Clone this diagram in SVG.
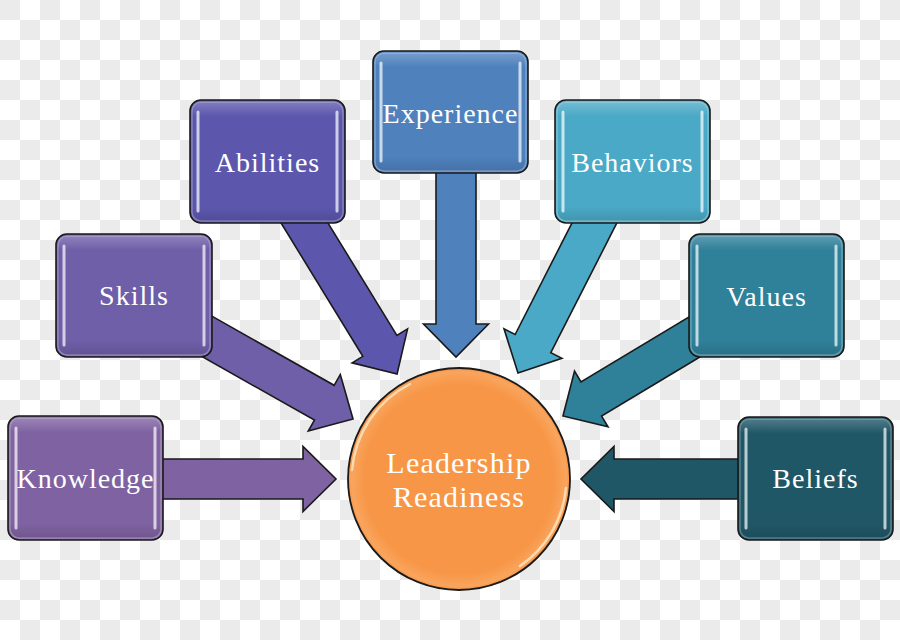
<svg xmlns="http://www.w3.org/2000/svg" width="900" height="640" viewBox="0 0 900 640">
<defs>
<pattern id="chk" width="40" height="40" patternUnits="userSpaceOnUse">
<rect width="40" height="40" fill="#ffffff"/>
<rect width="20" height="20" fill="#ebebeb"/>
<rect x="20" y="20" width="20" height="20" fill="#ebebeb"/>
</pattern>
<linearGradient id="gloss" x1="0" y1="0" x2="0" y2="1">
<stop offset="0" stop-color="#ffffff" stop-opacity="0.22"/>
<stop offset="0.12" stop-color="#ffffff" stop-opacity="0"/>
<stop offset="0.88" stop-color="#000000" stop-opacity="0"/>
<stop offset="1" stop-color="#000000" stop-opacity="0.12"/>
</linearGradient>
<radialGradient id="cglow" cx="0.5" cy="0.5" r="0.5">
<stop offset="0.85" stop-color="#f79646"/>
<stop offset="0.97" stop-color="#f9a55e"/>
<stop offset="1" stop-color="#f58f3e"/>
</radialGradient>
</defs>
<style>
.box{stroke:#1a1a1a;stroke-width:1.6}
.gl{fill:url(#gloss);stroke:#ffffff;stroke-opacity:0.25;stroke-width:1.5}
.hl{stroke:#ffffff;stroke-opacity:0.7;stroke-width:3;stroke-linecap:round;fill:none}
.arr{stroke:#1a1a1a;stroke-width:1.6;stroke-linejoin:miter}
.lbl{font-family:"Liberation Serif","Times New Roman",serif;font-size:28px;fill:#ffffff;text-anchor:middle;letter-spacing:1px}
.clbl{font-family:"Liberation Serif","Times New Roman",serif;font-size:30px;fill:#ffffff;text-anchor:middle;letter-spacing:1.2px}
</style>
<rect width="900" height="640" fill="url(#chk)"/>
<g id="connectors">
<path class="arr" fill="#7f62a1" transform="translate(150,479)" d="M0,-20 H153 V-32.5 L186,0 L153,32.5 V20 H0 Z"/>
<path class="arr" fill="#6f5ea8" transform="translate(200.7,332.8) rotate(29.5)" d="M0,-20 H142 V-32.5 L175,0 L142,32.5 V20 H0 Z"/>
<path class="arr" fill="#5c57ad" transform="translate(297.8,212) rotate(58.5)" d="M0,-20 H157 V-32.5 L190,0 L157,32.5 V20 H0 Z"/>
<path class="arr" fill="#4f81bd" transform="translate(456,162) rotate(90)" d="M0,-20 H162 V-32.5 L195,0 L162,32.5 V20 H0 Z"/>
<path class="arr" fill="#4aa9c6" transform="translate(599.7,212.6) rotate(117)" d="M0,-20 H147 V-32.5 L180,0 L147,32.5 V20 H0 Z"/>
<path class="arr" fill="#2f8099" transform="translate(708.7,328.4) rotate(149)" d="M0,-20 H137 V-32.5 L170,0 L137,32.5 V20 H0 Z"/>
<path class="arr" fill="#205767" transform="translate(751,479) rotate(180)" d="M0,-20 H137 V-32.5 L170,0 L137,32.5 V20 H0 Z"/>
</g>
<g id="knowledge">
<rect class="box" x="8" y="416" width="155" height="124" rx="11" fill="#7f62a1"/>
<rect class="gl" x="10" y="418" width="151" height="120" rx="9"/>
<path class="hl" d="M16,428 V528 M155,428 V528"/>
<text class="lbl" x="85.5" y="488">Knowledge</text>
</g>
<g id="skills">
<rect class="box" x="56" y="234" width="156" height="123" rx="11" fill="#6f5ea8"/>
<rect class="gl" x="58" y="236" width="152" height="119" rx="9"/>
<path class="hl" d="M64,246 V345 M204,246 V345"/>
<text class="lbl" x="134" y="305">Skills</text>
</g>
<g id="abilities">
<rect class="box" x="190" y="100" width="155" height="123" rx="11" fill="#5c57ad"/>
<rect class="gl" x="192" y="102" width="151" height="119" rx="9"/>
<path class="hl" d="M198,112 V211 M337,112 V211"/>
<text class="lbl" x="267.5" y="172">Abilities</text>
</g>
<g id="experience">
<rect class="box" x="373" y="51" width="155" height="122" rx="11" fill="#4f81bd"/>
<rect class="gl" x="375" y="53" width="151" height="118" rx="9"/>
<path class="hl" d="M381,63 V161 M520,63 V161"/>
<text class="lbl" x="450.5" y="123">Experience</text>
</g>
<g id="behaviors">
<rect class="box" x="555" y="100" width="155" height="123" rx="11" fill="#4aa9c6"/>
<rect class="gl" x="557" y="102" width="151" height="119" rx="9"/>
<path class="hl" d="M563,112 V211 M702,112 V211"/>
<text class="lbl" x="632.5" y="172">Behaviors</text>
</g>
<g id="values">
<rect class="box" x="689" y="234" width="155" height="123" rx="11" fill="#2f8099"/>
<rect class="gl" x="691" y="236" width="151" height="119" rx="9"/>
<path class="hl" d="M697,246 V345 M836,246 V345"/>
<text class="lbl" x="766.5" y="306">Values</text>
</g>
<g id="beliefs">
<rect class="box" x="738" y="417" width="155" height="123" rx="11" fill="#205767"/>
<rect class="gl" x="740" y="419" width="151" height="119" rx="9"/>
<path class="hl" d="M746,429 V528 M885,429 V528"/>
<text class="lbl" x="815.5" y="488">Beliefs</text>
</g>
<g id="leadership-readiness">
<circle cx="459" cy="479" r="111" fill="url(#cglow)" stroke="#1a1a1a" stroke-width="1.8"/>
<path d="M352,470 A107,107 0 0 1 410,384" fill="none" stroke="#ffe6c2" stroke-opacity="0.8" stroke-width="2.5" stroke-linecap="round"/>
<path d="M566,488 A107,107 0 0 1 520,566" fill="none" stroke="#ffe6c2" stroke-opacity="0.8" stroke-width="2.5" stroke-linecap="round"/>
<text class="clbl" x="459" y="473">Leadership</text>
<text class="clbl" x="459" y="507">Readiness</text>
</g>
</svg>
